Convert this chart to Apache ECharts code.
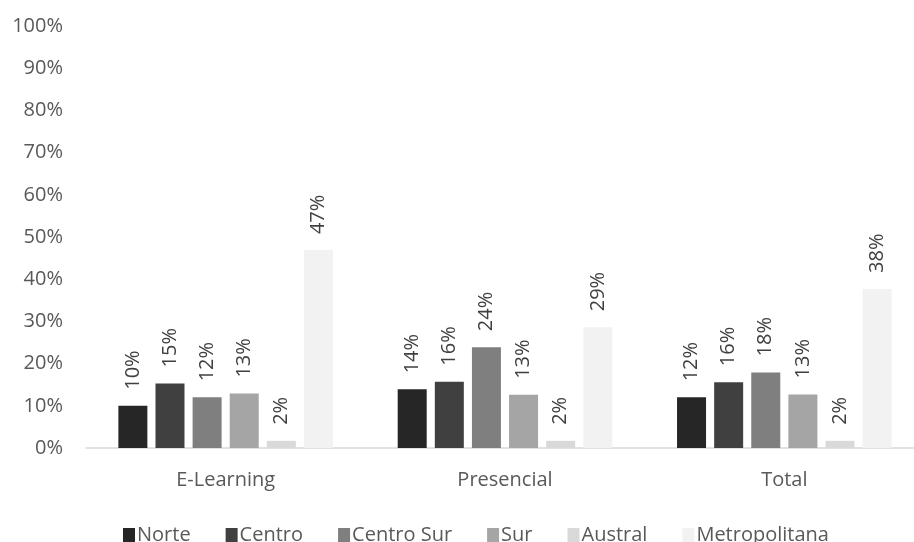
<!DOCTYPE html>
<html>
<head>
  <meta charset="utf-8">
  <title>Modalidad por zona</title>
  <script src="https://cdn.jsdelivr.net/npm/echarts@6/dist/echarts.min.js"></script>
</head>
<body style="margin: 0; overflow: hidden">
  <!-- the plot runs past the right edge in the reference, so the canvas is a bit wider than the window -->
  <div id="chart_div" style="width: 924px; height: 542px;"></div>
  <script>
    // values in percent
    var categories = ['E-Learning', 'Presencial', 'Total'];
    var regions = ['Norte', 'Centro', 'Centro Sur', 'Sur', 'Austral', 'Metropolitana'];
    var norte = [10.0, 13.9, 12.0];
    var centro = [15.3, 15.7, 15.6];
    var centroSur = [12.0, 23.9, 17.9];
    var sur = [12.9, 12.6, 12.7];
    var austral = [1.7, 1.7, 1.7];
    var metropolitana = [46.9, 28.6, 37.7];
    var colors = ['#262626', '#404040', '#7f7f7f', '#a5a5a5', '#d9d9d9', '#f2f2f2'];

    var font = '"Open Sans", sans-serif';
    var myChart = echarts.init(document.getElementById('chart_div'), null, { renderer: 'canvas' });

    var seriesData = [norte, centro, centroSur, sur, austral, metropolitana];
    var series = [];
    for (var i = 0; i < regions.length; i++) {
      series.push({
        name: regions[i],
        type: 'bar',
        data: seriesData[i],
        barWidth: 29,
        barGap: '28%',
        itemStyle: { color: colors[i] },
        label: {
          show: true,
          position: 'top',
          rotate: 90,
          align: 'left',
          verticalAlign: 'middle',
          distance: 16,
          color: '#404040',
          fontFamily: font,
          fontSize: 20,
          formatter: function (p) { return Math.round(p.value) + '%'; }
        }
      });
    }

    var option = {
      backgroundColor: '#fff',
      animation: false,
      color: colors,
      legend: {
        data: regions,
        left: 118,
        top: 520,
        itemWidth: 12,
        itemHeight: 14,
        itemGap: 35,
        icon: 'rect',
        textStyle: { color: '#595959', fontFamily: font, fontSize: 20, padding: [0, 0, 0, -3] }
      },
      grid: { left: 86, right: 0, top: 26, bottom: 94, containLabel: false },
      xAxis: {
        type: 'category',
        data: categories,
        axisLine: { lineStyle: { color: '#d9d9d9', width: 1.5 } },
        axisTick: { show: false },
        axisLabel: { color: '#595959', fontFamily: font, fontSize: 20, margin: 22 }
      },
      yAxis: {
        type: 'value',
        min: 0,
        max: 100,
        interval: 10,
        splitLine: { show: false },
        axisLine: { show: false },
        axisTick: { show: false },
        axisLabel: { color: '#595959', fontFamily: font, fontSize: 20, margin: 23, formatter: '{value}%' }
      },
      series: series
    };
    myChart.setOption(option);
  </script>
</body>
</html>
